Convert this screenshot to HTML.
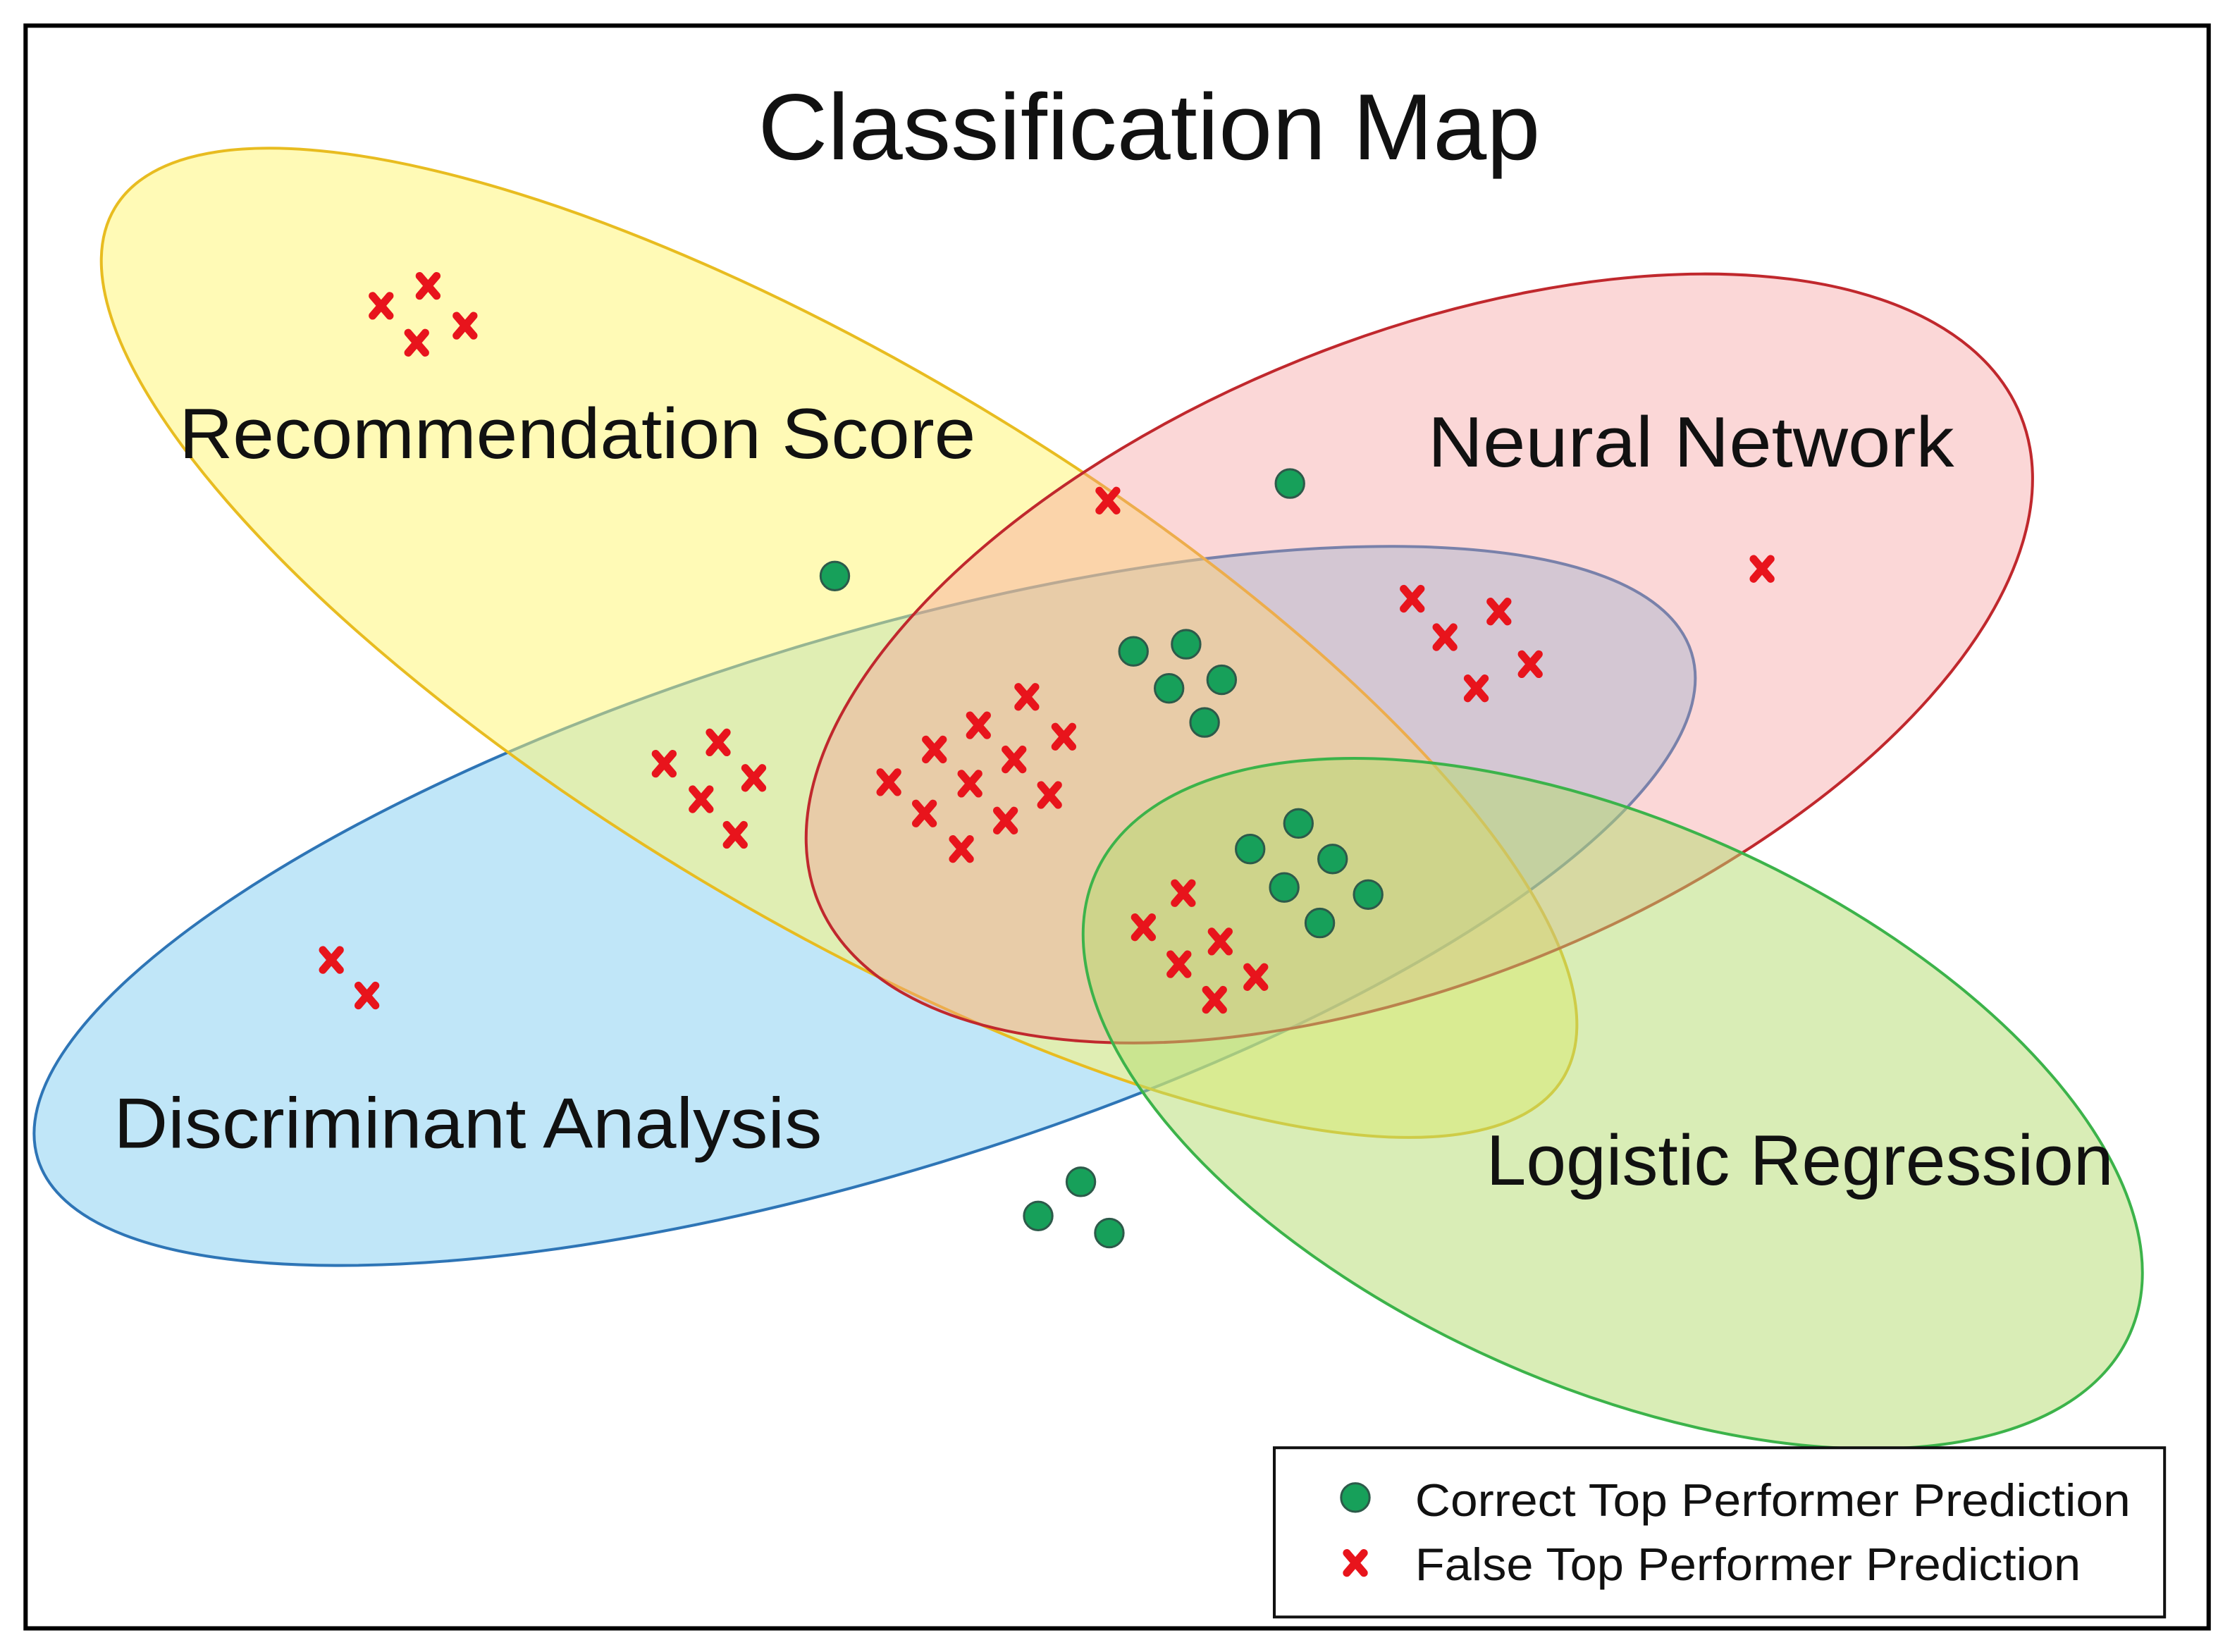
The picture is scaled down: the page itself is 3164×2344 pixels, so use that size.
<!DOCTYPE html>
<html><head><meta charset="utf-8"><style>
html,body{margin:0;padding:0;background:#fff;}
svg{display:block;}
text{font-family:"Liberation Sans",sans-serif;fill:#111;}
</style></head><body>
<svg width="3164" height="2344" viewBox="0 0 1568 1161.6" xmlns="http://www.w3.org/2000/svg">
<defs>
<g id="x"><path d="M-6,-7 L6,7 M6,-7 L-6,7" stroke="#e8141c" stroke-width="5.5" stroke-linecap="round"/></g>
<g id="o"><circle r="10" fill="#17a05a" stroke="#2d5a4a" stroke-width="1.5"/></g>
</defs>
<rect x="0" y="0" width="1568" height="1162" fill="#fff"/>
<rect x="18" y="18" width="1535" height="1127" fill="none" stroke="#000" stroke-width="3"/>
<ellipse cx="608" cy="637" rx="608" ry="188" transform="rotate(-17 608 637)" fill="rgba(140,210,242,0.55)" stroke="#2e75b6" stroke-width="2"/>
<ellipse cx="590" cy="452" rx="594" ry="193" transform="rotate(31 590 452)" fill="rgba(255,245,110,0.5)" stroke="#e8bc20" stroke-width="2"/>
<ellipse cx="998" cy="463" rx="456" ry="226" transform="rotate(-22 998 463)" fill="rgba(245,150,150,0.38)" stroke="#c0282d" stroke-width="2"/>
<ellipse cx="1134" cy="776" rx="398" ry="198" transform="rotate(24 1134 776)" fill="rgba(180,220,110,0.5)" stroke="#3cb34a" stroke-width="2"/>
<text x="808" y="112" font-size="66" text-anchor="middle" textLength="550" lengthAdjust="spacingAndGlyphs">Classification Map</text>
<text x="126" y="322" font-size="50" textLength="560" lengthAdjust="spacingAndGlyphs">Recommendation Score</text>
<text x="1004" y="328" font-size="50" textLength="370" lengthAdjust="spacingAndGlyphs">Neural Network</text>
<text x="80" y="807" font-size="50" textLength="498" lengthAdjust="spacingAndGlyphs">Discriminant Analysis</text>
<text x="1045" y="833" font-size="50" textLength="441" lengthAdjust="spacingAndGlyphs">Logistic Regression</text>
<g>
<use href="#x" x="268" y="215"/><use href="#x" x="301" y="201"/><use href="#x" x="293" y="241"/><use href="#x" x="327" y="229"/>
<use href="#x" x="779" y="352"/><use href="#x" x="1239" y="400"/>
<use href="#x" x="993" y="421"/><use href="#x" x="1054" y="430"/><use href="#x" x="1016" y="448"/><use href="#x" x="1076" y="467"/><use href="#x" x="1038" y="484"/>
<use href="#x" x="467" y="537"/><use href="#x" x="505" y="522"/><use href="#x" x="530" y="547"/><use href="#x" x="493" y="562"/><use href="#x" x="517" y="587"/>
<use href="#x" x="722" y="490"/><use href="#x" x="688" y="510"/><use href="#x" x="748" y="518"/><use href="#x" x="657" y="527"/><use href="#x" x="713" y="534"/><use href="#x" x="625" y="550"/><use href="#x" x="682" y="551"/><use href="#x" x="738" y="559"/><use href="#x" x="650" y="572"/><use href="#x" x="707" y="577"/><use href="#x" x="676" y="597"/>
<use href="#x" x="832" y="628"/><use href="#x" x="804" y="652"/><use href="#x" x="858" y="662"/><use href="#x" x="829" y="678"/><use href="#x" x="883" y="687"/><use href="#x" x="854" y="703"/>
<use href="#x" x="233" y="675"/><use href="#x" x="258" y="700"/>
<use href="#o" x="907" y="340"/><use href="#o" x="587" y="405"/>
<use href="#o" x="797" y="458"/><use href="#o" x="834" y="453"/><use href="#o" x="859" y="478"/><use href="#o" x="822" y="484"/><use href="#o" x="847" y="508"/>
<use href="#o" x="913" y="579"/><use href="#o" x="879" y="597"/><use href="#o" x="937" y="604"/><use href="#o" x="903" y="624"/><use href="#o" x="962" y="629"/><use href="#o" x="928" y="649"/>
<use href="#o" x="760" y="831"/><use href="#o" x="730" y="855"/><use href="#o" x="780" y="867"/>
</g>
<rect x="896" y="1018" width="626" height="119" fill="#fff" stroke="#111" stroke-width="2"/>
<use href="#o" x="953" y="1053"/><use href="#x" x="953" y="1099"/>
<text x="995" y="1066" font-size="32" textLength="503" lengthAdjust="spacingAndGlyphs">Correct Top Performer Prediction</text>
<text x="995" y="1111" font-size="32" textLength="468" lengthAdjust="spacingAndGlyphs">False Top Performer Prediction</text>
</svg>
</body></html>
